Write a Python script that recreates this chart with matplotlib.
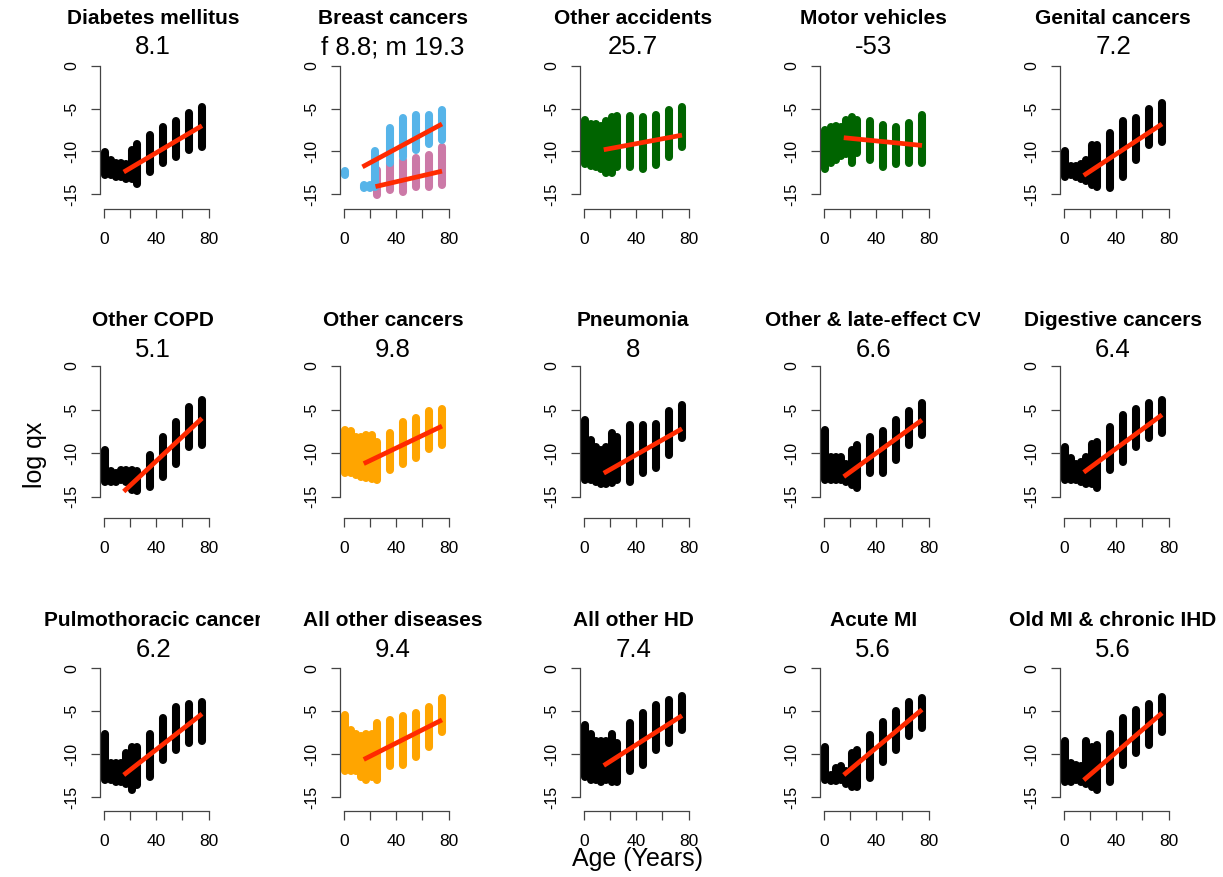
"""Log mortality by age for 15 causes of death, one small panel per cause."""

import matplotlib

matplotlib.use("Agg")
import matplotlib.pyplot as plt
from matplotlib.transforms import Bbox

W, H, DPI = 1223, 877, 100

plt.rcParams.update({"font.family": ["Liberation Sans", "DejaVu Sans"]})

# age groups used for the point strips (younger ones overlap into a block)
AGES = [1, 5, 9, 13, 17, 21, 25, 35, 45, 55, 65, 75]

TITLES = [
    "Diabetes mellitus", "Breast cancers", "Other accidents", "Motor vehicles",
    "Genital cancers", "Other COPD", "Other cancers", "Pneumonia",
    "Other & late-effect CV", "Digestive cancers", "Pulmothoracic cancer",
    "All other diseases", "All other HD", "Acute MI", "Old MI & chronic IHD",
]
SUBTITLES = [
    "8.1", "f 8.8; m 19.3", "25.7", "-53", "7.2", "5.1", "9.8", "8",
    "6.6", "6.4", "6.2", "9.4", "7.4", "5.6", "5.6",
]

BLACK = "#000000"
GREEN = "#006400"
ORANGE = "#FFA500"
SKY = "#56B4E9"
PINK = "#CC79A7"
RED = "#FF2A00"

# upper / lower edge of each age strip (log qx)
DIAB_HI = [-10.1, -11.0, -11.3, -11.3, -11.5, -9.8, -9.1, -8.1, -7.2, -6.4, -5.5, -4.8]
DIAB_LO = [-12.8, -12.8, -13.0, -13.0, -13.2, -13.2, -13.8, -12.4, -11.4, -10.6, -9.8, -9.5]
DIAB_FIT = ([15, 75], [-12.4, -7.0])

BREAST_F_AGES = [1, 15, 20, 24, 35, 45, 55, 65, 75]
BREAST_F_HI = [-12.3, -13.9, -13.9, -10.0, -7.3, -6.1, -5.8, -5.8, -5.2]
BREAST_F_LO = [-12.7, -14.3, -14.3, -14.1, -11.4, -10.6, -9.8, -9.1, -8.7]
BREAST_M_AGES = [25, 35, 45, 55, 65, 75]
BREAST_M_HI = [-12.2, -11.4, -11.0, -10.8, -10.4, -9.5]
BREAST_M_LO = [-15.1, -14.5, -14.7, -14.1, -14.1, -13.9]
BREAST_F_FIT = ([14, 75], [-11.8, -6.8])
BREAST_M_FIT = ([24, 75], [-14.1, -12.3])

ACC_HI = [-6.3, -6.8, -6.8, -7.0, -6.5, -6.0, -5.9, -5.9, -6.0, -5.8, -5.2, -4.8]
ACC_LO = [-11.5, -11.7, -11.8, -12.0, -12.5, -12.5, -11.8, -11.8, -12.0, -11.6, -10.6, -9.5]
ACC_FIT = ([15, 75], [-9.8, -8.1])

MOTOR_HI = [-7.5, -7.2, -7.0, -7.2, -6.3, -6.0, -6.3, -6.5, -6.9, -7.1, -6.7, -5.8]
MOTOR_LO = [-12.0, -11.3, -11.0, -10.5, -10.3, -11.3, -10.2, -11.0, -11.8, -11.5, -11.4, -11.4]
MOTOR_FIT = ([15, 75], [-8.4, -9.3])

GENITAL_HI = [-9.9, -11.7, -11.7, -11.5, -11.0, -9.3, -9.2, -7.9, -6.5, -6.1, -5.0, -4.4]
GENITAL_LO = [-13.0, -12.8, -13.0, -13.2, -13.4, -13.9, -14.1, -14.3, -13.0, -11.0, -9.3, -8.9]
GENITAL_FIT = ([15, 75], [-12.8, -6.8])

COPD_HI = [-9.6, -12.1, -12.3, -11.9, -11.9, -11.9, -12.1, -10.2, -8.1, -6.4, -4.7, -3.9]
COPD_LO = [-13.3, -13.3, -13.3, -13.1, -13.3, -14.2, -14.4, -13.9, -12.7, -11.2, -9.3, -9.1]
COPD_FIT = ([15, 75], [-14.4, -6.0])

OCANC_HI = [-7.3, -7.5, -8.1, -8.1, -7.9, -7.9, -8.7, -7.7, -6.4, -6.0, -5.2, -4.9]
OCANC_LO = [-12.3, -12.3, -12.5, -12.7, -12.9, -13.0, -13.1, -11.9, -11.2, -10.6, -9.5, -9.1]
OCANC_FIT = ([15, 75], [-11.2, -6.9])

PNEU_HI = [-6.2, -8.5, -9.3, -9.6, -9.3, -7.7, -8.1, -6.8, -6.8, -6.6, -5.2, -4.5]
PNEU_LO = [-13.1, -13.1, -13.3, -13.5, -13.5, -13.4, -13.1, -13.3, -12.3, -11.7, -10.2, -8.3]
PNEU_FIT = ([15, 75], [-12.3, -7.2])

CV_HI = [-7.3, -10.4, -10.4, -10.4, -11.2, -9.6, -9.1, -8.1, -7.5, -6.2, -5.2, -4.3]
CV_LO = [-13.1, -13.1, -13.1, -13.1, -13.3, -13.7, -14.0, -12.3, -12.3, -10.8, -9.1, -7.9]
CV_FIT = ([15, 75], [-12.7, -6.2])

DIGEST_HI = [-9.3, -10.6, -11.2, -11.0, -10.4, -8.9, -8.7, -7.0, -5.6, -4.9, -4.3, -3.9]
DIGEST_LO = [-13.1, -13.1, -13.1, -13.3, -13.5, -13.5, -14.0, -11.9, -11.0, -9.3, -8.3, -7.7]
DIGEST_FIT = ([15, 75], [-12.2, -5.6])

PULMO_HI = [-7.6, -11.0, -11.0, -11.0, -9.9, -9.1, -9.1, -7.6, -5.8, -4.5, -4.1, -3.9]
PULMO_LO = [-13.0, -13.0, -13.2, -13.2, -13.4, -14.1, -13.6, -12.6, -10.7, -9.5, -8.7, -8.5]
PULMO_FIT = ([15, 75], [-12.4, -5.3])

AOD_HI = [-5.4, -7.2, -7.6, -7.9, -7.6, -7.6, -6.4, -6.0, -5.6, -5.2, -4.5, -3.5]
AOD_LO = [-12.0, -12.0, -12.0, -12.6, -13.0, -12.6, -13.0, -11.4, -11.2, -10.3, -9.1, -7.4]
AOD_FIT = ([15, 75], [-10.6, -6.0])

HD_HI = [-6.6, -7.6, -8.5, -8.5, -8.5, -7.6, -8.7, -6.4, -5.2, -4.3, -3.7, -3.2]
HD_LO = [-12.6, -13.0, -13.0, -13.2, -13.0, -13.2, -13.2, -12.0, -11.2, -9.5, -8.7, -7.2]
HD_FIT = ([15, 75], [-11.3, -5.5])

AMI_HI = [-9.1, -12.4, -11.6, -11.4, -12.0, -9.9, -9.5, -7.8, -6.2, -5.0, -3.9, -3.5]
AMI_LO = [-13.0, -13.1, -13.1, -13.0, -13.4, -13.8, -13.8, -12.8, -10.9, -9.5, -7.9, -7.0]
AMI_FIT = ([15, 75], [-12.4, -4.8])

IHD_HI = [-8.5, -11.0, -11.2, -11.4, -8.5, -9.1, -8.9, -7.6, -5.8, -4.8, -4.1, -3.3]
IHD_LO = [-13.2, -13.2, -13.0, -13.2, -13.4, -13.8, -14.1, -13.2, -11.2, -9.9, -8.9, -7.4]
IHD_FIT = ([15, 75], [-13.0, -5.2])

# (strips, fits) per panel, row by row
PANELS = [
    ([(AGES, DIAB_HI, DIAB_LO, BLACK)], [DIAB_FIT]),
    ([(BREAST_M_AGES, BREAST_M_HI, BREAST_M_LO, PINK),
      (BREAST_F_AGES, BREAST_F_HI, BREAST_F_LO, SKY)], [BREAST_F_FIT, BREAST_M_FIT]),
    ([(AGES, ACC_HI, ACC_LO, GREEN)], [ACC_FIT]),
    ([(AGES, MOTOR_HI, MOTOR_LO, GREEN)], [MOTOR_FIT]),
    ([(AGES, GENITAL_HI, GENITAL_LO, BLACK)], [GENITAL_FIT]),
    ([(AGES, COPD_HI, COPD_LO, BLACK)], [COPD_FIT]),
    ([(AGES, OCANC_HI, OCANC_LO, ORANGE)], [OCANC_FIT]),
    ([(AGES, PNEU_HI, PNEU_LO, BLACK)], [PNEU_FIT]),
    ([(AGES, CV_HI, CV_LO, BLACK)], [CV_FIT]),
    ([(AGES, DIGEST_HI, DIGEST_LO, BLACK)], [DIGEST_FIT]),
    ([(AGES, PULMO_HI, PULMO_LO, BLACK)], [PULMO_FIT]),
    ([(AGES, AOD_HI, AOD_LO, ORANGE)], [AOD_FIT]),
    ([(AGES, HD_HI, HD_LO, BLACK)], [HD_FIT]),
    ([(AGES, AMI_HI, AMI_LO, BLACK)], [AMI_FIT]),
    ([(AGES, IHD_HI, IHD_LO, BLACK)], [IHD_FIT]),
]

# layout in pixels: y of log qx = 0, y of -15, y of the age axis line
ROWS = [(65.7, 194.3, 209.0), (366.0, 496.7, 518.0), (668.3, 797.3, 810.7)]
TITLE_Y = [18.3, 320.0, 620.7]
SUB_Y = [47.5, 350.0, 650.0]
SPINE_X0, COL_STEP = 99.5, 240.0
PX_PER_YEAR = 1.304
X_LEFT, X_RIGHT = -3.6, 84.0


def main() -> None:
    fig = plt.figure(figsize=(W / DPI, H / DPI), dpi=DPI)
    for idx, (strips, fits) in enumerate(PANELS):
        row, col = divmod(idx, 5)
        y0, y15, yaxis = ROWS[row]
        per_unit = (y15 - y0) / 15.0
        left = SPINE_X0 + COL_STEP * col
        width = (X_RIGHT - X_LEFT) * PX_PER_YEAR
        y_top = 0.6
        y_bot = -(yaxis - y0) / per_unit
        top_px = y0 - y_top * per_unit
        ax = fig.add_axes(
            [left / W, 1 - yaxis / H, width / W, (yaxis - top_px) / H]
        )
        ax.set_xlim(X_LEFT, X_RIGHT)
        ax.set_ylim(y_bot, y_top)
        ax.patch.set_alpha(0)

        for ages, hi, lo, color in strips:
            ax.vlines(ages, lo, hi, colors=color, linewidth=5.8, capstyle="round")
        for xs, ys in fits:
            ax.plot(xs, ys, color=RED, linewidth=3.4, solid_capstyle="butt")

        for side in ("top", "right"):
            ax.spines[side].set_visible(False)
        for side in ("left", "bottom"):
            ax.spines[side].set_color("#444444")
            ax.spines[side].set_linewidth(0.9)
        ax.spines["left"].set_bounds(-15, 0)
        ax.spines["bottom"].set_bounds(0, 80)
        ax.set_yticks([-15, -10, -5, 0], ["-15", "-10", "-5", "0"],
                      rotation=90, va="center", fontsize=11.5)
        ax.set_xticks([0, 20, 40, 60, 80], ["0", "", "40", "", "80"], fontsize=12.5)
        ax.tick_params(direction="out", length=6.5, width=0.9, color="#444444",
                       pad=8)
        ax.tick_params(axis="x", pad=10)

        cx = (left + (-3.0 - X_LEFT) * PX_PER_YEAR
              + 81.0 * PX_PER_YEAR / 2) / W
        clip_left = 14 + COL_STEP * col
        clip_right = W if col == 4 else 260 + COL_STEP * col
        title = fig.text(cx, 1 - TITLE_Y[row] / H, TITLES[idx], ha="center",
                         va="center", fontsize=15, fontweight="bold")
        title.set_clip_box(Bbox.from_extents(clip_left, 0, clip_right, H))
        fig.text(cx, 1 - SUB_Y[row] / H, SUBTITLES[idx], ha="center",
                 va="center", fontsize=18.5)

    fig.text(35 / W, 1 - 455 / H, "log qx", rotation=90, ha="center",
             va="center", fontsize=18)
    fig.text(637 / W, 1 - 859 / H, "Age (Years)", ha="center", va="center",
             fontsize=18)
    fig.savefig("out.png", dpi=DPI)


if __name__ == "__main__":
    main()
